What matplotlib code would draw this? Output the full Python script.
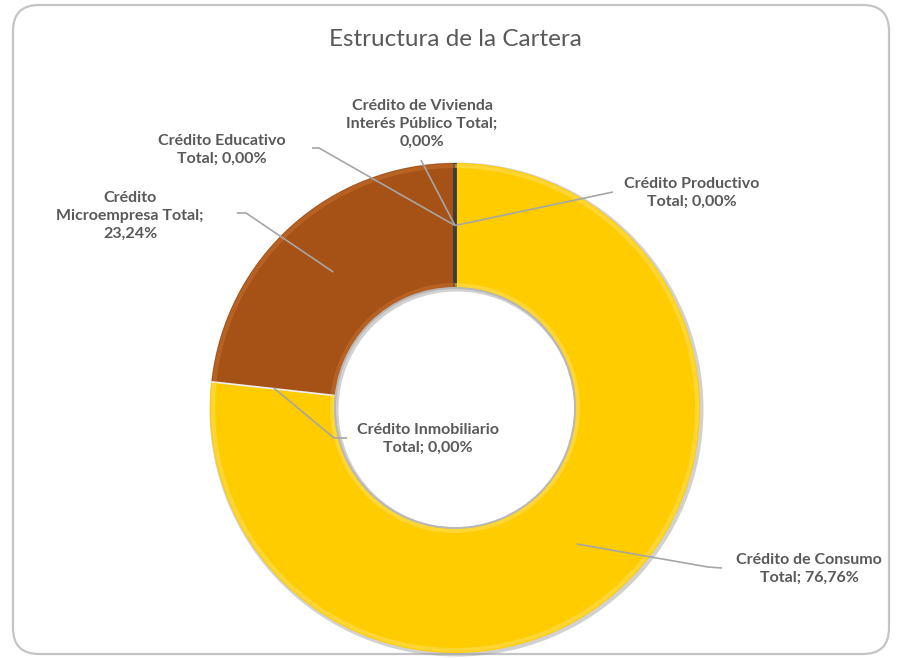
import numpy as np
import matplotlib
matplotlib.use("Agg")
import matplotlib.pyplot as plt
from matplotlib.patches import FancyBboxPatch, Wedge

# data (clockwise from 12 o'clock)
categories = ["Crédito Productivo", "Crédito de Consumo", "Crédito Inmobiliario",
              "Crédito Microempresa", "Crédito Educativo",
              "Crédito de Vivienda Interés Público"]
shares = [0.00, 76.76, 0.00, 23.24, 0.00, 0.00]
colors = ["#FFCC00", "#FFCC00", "#FFCC00", "#A65217", "#A65217", "#A65217"]
edge_colors = ["#3c3c3c", "none", "#eeeeee", "none", "#3c3c3c", "#3c3c3c"]
title = "Estructura de la Cartera"

# label wrapping as in the original
label_fmt = {
    "Crédito Productivo": "{n}\nTotal; {v}",
    "Crédito de Consumo": "{n}\nTotal; {v}",
    "Crédito Inmobiliario": "{n}\nTotal; {v}",
    "Crédito Microempresa": "Crédito\nMicroempresa Total;\n{v}",
    "Crédito Educativo": "{n}\nTotal; {v}",
    "Crédito de Vivienda Interés Público": "Crédito de Vivienda\nInterés Público Total;\n{v}",
}

# layout in pixels (y from top)
W, H = 899, 658
CX, CY = 455, 408
R_OUT, R_IN = 245, 120
label_pos = {
    "Crédito Productivo": (692, 193),
    "Crédito de Consumo": (809, 569),
    "Crédito Inmobiliario": (428, 439),
    "Crédito Microempresa": (130, 216),
    "Crédito Educativo": (222, 150),
    "Crédito de Vivienda Interés Público": (422, 124),
}
leader_pts = {
    "Crédito Productivo": [(613, 192)],
    "Crédito de Consumo": [(722, 568), (708, 567)],
    "Crédito Inmobiliario": [(347, 438), (334, 438)],
    "Crédito Microempresa": [(237, 213), (246, 213)],
    "Crédito Educativo": [(312, 148), (319, 148)],
    "Crédito de Vivienda Interés Público": [(421, 160)],
}

TXT = "#595959"
LINE = "#a6a6a6"


def py(y):
    return H - y


fig = plt.figure(figsize=(W / 100, H / 100), dpi=100)
ax = fig.add_axes([0, 0, 1, 1])

# chart border
border = FancyBboxPatch((13, py(654)), 876, 649,
                        boxstyle="round,pad=0,rounding_size=26",
                        facecolor="white", edgecolor="#c4c4c4", lw=1.6, zorder=0)
ax.add_patch(border)

# soft shadow under the ring
ax.add_patch(Wedge((CX + 1.5, py(CY) - 1.5), R_OUT + 2, 0, 360, width=R_OUT - R_IN + 4,
                   facecolor="#9a9a9a", alpha=0.45, lw=0, zorder=1))

wedges, _ = ax.pie(shares, colors=colors, startangle=90, counterclock=False,
                   radius=R_OUT, center=(CX, py(CY)),
                   wedgeprops=dict(width=R_OUT - R_IN, lw=0))
for w, ec in zip(wedges, edge_colors):
    w.set_zorder(2)
    if ec != "none":
        w.set_edgecolor(ec)
        w.set_linewidth(2.5)

# bevel highlights
for w, c in zip(wedges, colors):
    if w.theta2 - w.theta1 <= 0:
        continue
    hl = "#FFE066" if c == "#FFCC00" else "#C8702E"
    ax.add_patch(Wedge(w.center, R_OUT - 1, w.theta1, w.theta2, width=4,
                       facecolor=hl, alpha=0.5, lw=0, zorder=3))
    ax.add_patch(Wedge(w.center, R_IN + 5, w.theta1, w.theta2, width=4,
                       facecolor=hl, alpha=0.5, lw=0, zorder=3))

# hole shadow
ax.add_patch(Wedge((CX, py(CY)), R_IN + 1, 0, 360, width=2,
                   facecolor="#b8b8b8", lw=0, zorder=3))

# labels and leader lines
r_mid = (R_OUT + R_IN) / 2
for w, name, v in zip(wedges, categories, shares):
    ang = np.deg2rad((w.theta1 + w.theta2) / 2)
    tx = CX + r_mid * np.cos(ang)
    ty = py(CY) + r_mid * np.sin(ang)
    pts = [(x, py(y)) for x, y in leader_pts[name]] + [(tx, ty)]
    xs, ys = zip(*pts)
    ax.plot(xs, ys, color=LINE, lw=1.2, zorder=4, solid_capstyle="butt")
    txt = label_fmt[name].format(n=name, v=f"{v:.2f}%".replace(".", ","))
    lx, ly = label_pos[name]
    ax.text(lx, py(ly), txt, ha="center", va="center", multialignment="center",
            fontsize=11.5, fontweight="bold", family="Lato", color=TXT,
            linespacing=1.38, zorder=5)

ax.text(455, py(40), title, ha="center", va="center", fontsize=17.5,
        family="Lato", color=TXT)

ax.set_xlim(0, W)
ax.set_ylim(0, H)
ax.set_aspect("equal")
ax.axis("off")

fig.savefig("out.png", dpi=100)
